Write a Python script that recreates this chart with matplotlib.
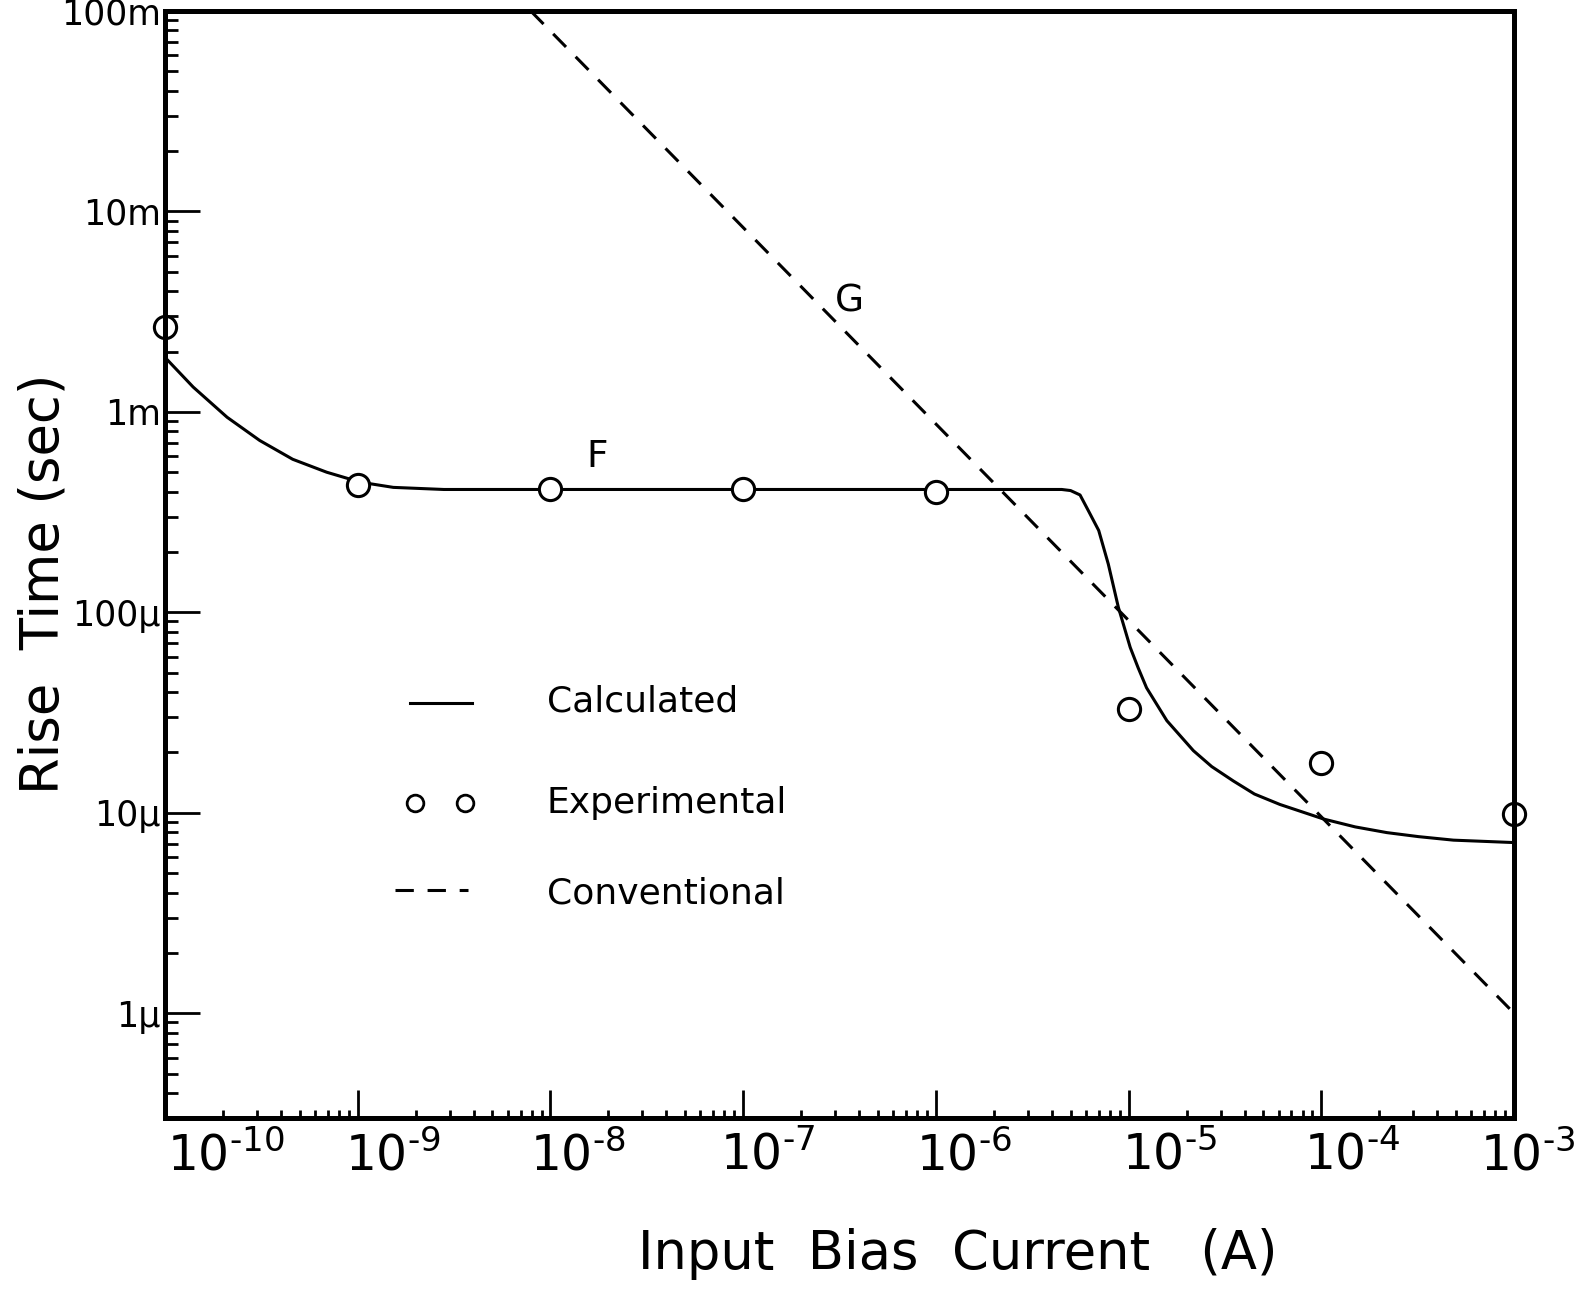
import matplotlib
matplotlib.use('Agg')
import matplotlib.pyplot as plt
import matplotlib.transforms as mtransforms

plt.rcParams['font.family'] = ['DejaVu Sans']
plt.rcParams['mathtext.fontset'] = 'dejavusans'

# Calculated curve F (input bias current [A], rise time [s])
calc_i = [1e-10, 1.4e-10, 2.1e-10, 3.1e-10, 4.6e-10, 6.9e-10, 1.03e-9, 1.53e-9,
          2.8e-9, 5e-9, 1e-8, 1e-7, 1e-6, 3e-6, 4.5e-6, 5.0e-6, 5.6e-6, 6.2e-6,
          7.0e-6, 7.85e-6, 8.85e-6, 1.02e-5, 1.12e-5, 1.24e-5, 1.58e-5, 2.17e-5,
          2.7e-5, 3.5e-5, 4.5e-5, 6.1e-5, 1.03e-4, 1.5e-4, 2.19e-4, 3.2e-4, 4.85e-4, 1e-3]
calc_t = [1.87e-3, 1.33e-3, 0.94e-3, 0.72e-3, 0.58e-3, 0.50e-3, 0.446e-3, 0.42e-3,
          0.41e-3, 0.41e-3, 0.41e-3, 0.41e-3, 0.41e-3, 0.41e-3, 0.41e-3, 0.405e-3,
          0.385e-3, 0.32e-3, 0.256e-3, 0.174e-3, 0.106e-3, 66.8e-6, 53e-6, 42e-6,
          28.8e-6, 20.4e-6, 17e-6, 14.4e-6, 12.4e-6, 11.0e-6, 9.3e-6, 8.5e-6,
          7.96e-6, 7.6e-6, 7.3e-6, 7.1e-6]

# Experimental points
exp_i = [1e-10, 1e-9, 1e-8, 1e-7, 1e-6, 1e-5, 1e-4, 1e-3]
exp_t = [2.65e-3, 0.43e-3, 0.41e-3, 0.41e-3, 0.40e-3, 32.9e-6, 17.7e-6, 9.9e-6]

# Conventional line G
conv_i = [7.9e-9, 1e-3]
conv_t = [0.1, 1.0e-6]

yticks = [1e-6, 1e-5, 1e-4, 1e-3, 1e-2, 1e-1]
ytick_labels = ['1µ', '10µ', '100µ', '1m', '10m', '100m']
xticks = [1e-10, 1e-9, 1e-8, 1e-7, 1e-6, 1e-5, 1e-4, 1e-3]
xtick_exps = ['10', '9', '8', '7', '6', '5', '4', '3']
xtick_labels = [r'$\mathregular{10^{‐' + e + '}}$' for e in xtick_exps]

fig = plt.figure(figsize=(15.85, 12.91), dpi=100)
ax = fig.add_axes([0.1041, 0.1340, 0.8511, 0.8575])

ax.plot(calc_i, calc_t, color='black', lw=2.2)
ax.plot(conv_i, conv_t, color='black', lw=2.2, dashes=(6, 4.5))
ax.plot(exp_i, exp_t, 'o', ms=16, mfc='white', mec='black', mew=2.2, clip_on=False, zorder=2.2)

ax.set_xscale('log')
ax.set_yscale('log')
ax.set_xlim(1e-10, 1e-3)
ax.set_ylim(3e-7, 0.1)

ax.set_xticks(xticks)
ax.set_xticklabels(xtick_labels, fontsize=35)
ax.set_yticks(yticks)
ax.set_yticklabels(ytick_labels, fontsize=25)

ax.tick_params(axis='both', which='both', direction='in', width=2, top=False, right=False)
ax.tick_params(axis='y', which='major', length=25, pad=3)
ax.tick_params(axis='y', which='minor', length=9)
ax.tick_params(axis='x', which='major', length=20, pad=10)
ax.tick_params(axis='x', which='minor', length=6)

# hand lettered labels sit a bit off their ticks
nudge_px = [2, -13, -20, -23, -20, -7, -17, -34]
for lab, dx in zip(ax.get_xticklabels(), nudge_px):
    lab.set_ha('left')
    lab.set_transform(lab.get_transform() + mtransforms.ScaledTranslation(dx / 100, 0, fig.dpi_scale_trans))

for s in ax.spines.values():
    s.set_linewidth(3.6)

# curve labels
ax.text(1.74e-8, 0.594e-3, 'F', fontsize=27, ha='center', va='center')
ax.text(3.55e-7, 3.56e-3, 'G', fontsize=27, ha='center', va='center')

# hand drawn legend
ax.plot([0.1816, 0.2274], [0.3746, 0.3746], color='black', lw=2.2, transform=ax.transAxes)
ax.plot([0.1853, 0.2224], [0.2843, 0.2843], 'o', ms=12, mfc='white', mec='black', mew=2.0,
        transform=ax.transAxes)
ax.plot([0.1705, 0.2246], [0.2060, 0.2060], color='black', lw=2.2, dashes=(6, 4.5),
        transform=ax.transAxes)
ax.text(0.2830, 0.3676, 'Calculated', fontsize=26, transform=ax.transAxes, va='baseline')
ax.text(0.2830, 0.2755, 'Experimental', fontsize=26, transform=ax.transAxes, va='baseline')
ax.text(0.2830, 0.1942, 'Conventional', fontsize=26, transform=ax.transAxes, va='baseline')

fig.text(44 / 1585, 1 - 584 / 1291, 'Rise  Time (sec)', fontsize=38, rotation=90,
         ha='center', va='center')
fig.text(958 / 1585, 1 - 1254 / 1291, 'Input  Bias  Current   (A)', fontsize=38,
         ha='center', va='center')

fig.savefig('out.png', dpi=100)
